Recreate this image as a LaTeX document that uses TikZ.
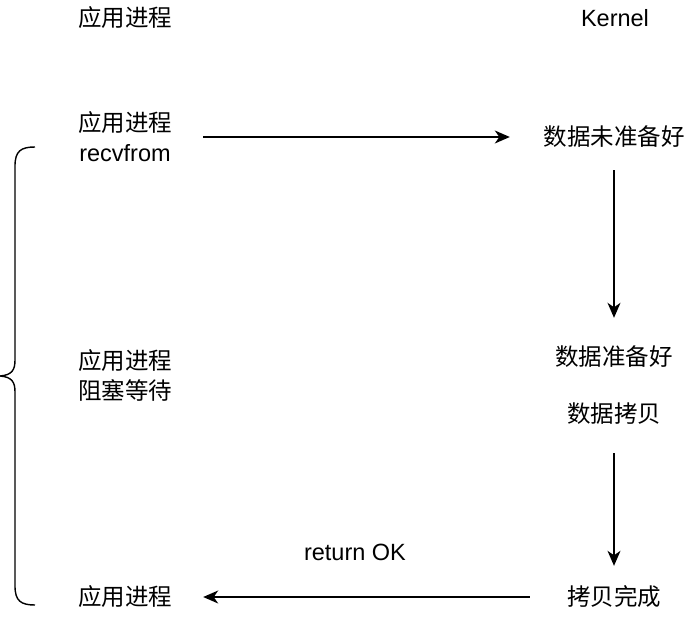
\documentclass[tikz,border=0pt]{standalone}
\usepackage{fontspec}
\setmainfont{Liberation Sans}
\newfontfamily\cjk{Noto Sans CJK SC}
\usetikzlibrary{arrows.meta}
\tikzset{
  lbl/.style={inner sep=0pt, font=\fontsize{23.5}{30}\selectfont, align=center},
  zh/.style={lbl, font=\fontsize{23.5}{30}\selectfont\cjk},
  flow/.style={line width=1.4pt, -{Stealth[length=15pt,width=13pt,inset=4.5pt]}}
}
\begin{document}
\begin{tikzpicture}[x=1pt,y=-1pt]
      \useasboundingbox (0,0) rectangle (700,620);
      \node[zh] (app) at (125,18) {应用进程};
      \node[lbl] (kern) at (615,18) {Kernel};
      \node[lbl, minimum width=156pt] (call) at (125,137) {{\cjk 应用进程}\\recvfrom};
      \node[zh, minimum width=208pt, minimum height=66pt] (notready) at (614,137) {数据未准备好};
      \node[zh] (wait) at (125,375) {应用进程\\阻塞等待};
      \node[zh, minimum height=78pt] (ready) at (614,357) {数据准备好};
      \node[zh, minimum height=78pt] (copy) at (614,414) {数据拷贝};
      \node[zh, minimum width=168pt, minimum height=62pt] (done) at (614,597) {拷贝完成};
      \node[zh, minimum width=156pt] (back) at (125,597) {应用进程};
      \node[lbl] (ret) at (355,552) {return OK};
      \begin{scope}[flow]
        \draw (call) -- (notready);
        \draw (notready) -- (ready);
        \draw (copy) -- (done);
        \draw (done) -- (back);
      \end{scope}
      % brace
      \draw[line width=1.4pt] (35,147) .. controls (21,147) and (15,151) .. (15,166)
        -- (15,360) .. controls (15,370) and (12,375) .. (0,376)
        (0,376) .. controls (12,377) and (15,382) .. (15,392)
        -- (15,586) .. controls (15,601) and (21,605) .. (35,605);
    \end{tikzpicture}
\end{document}
